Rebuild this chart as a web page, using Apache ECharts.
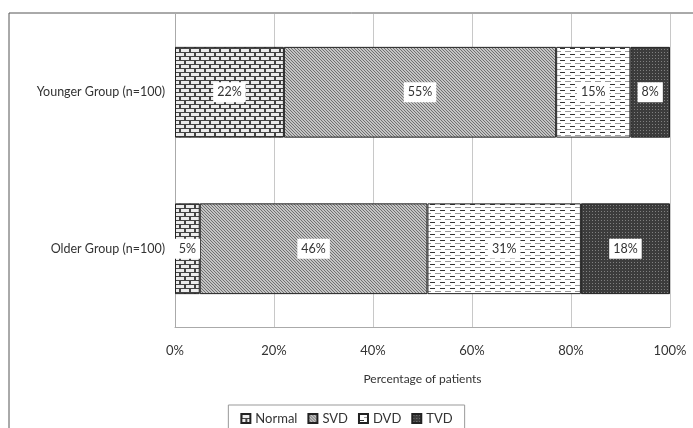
<!DOCTYPE html>
<html><head><meta charset="utf-8">
<script src="https://cdn.jsdelivr.net/npm/echarts@6/dist/echarts.min.js"></script>
<style>html,body{margin:0;padding:0;background:#fff}#c{width:693px;height:428px}</style>
</head><body><div id="c"></div>
<script>
const categories = ['Younger Group (n=100)', 'Older Group (n=100)'];
const seriesNames = ['Normal', 'SVD', 'DVD', 'TVD'];
const normalVals = [22, 5];
const svdVals = [55, 46];
const dvdVals = [15, 31];
const tvdVals = [8, 18];
const xTicks = [0, 20, 40, 60, 80, 100];

function pat(w, h, draw) {
  const c = document.createElement('canvas'); c.width = w; c.height = h;
  const g = c.getContext('2d'); draw(g); return { image: c, repeat: 'repeat' };
}
const patterns = [
  pat(10, 8, g => { g.fillStyle = '#444'; g.fillRect(0,0,10,8); g.fillStyle = '#ececec';
    g.fillRect(1,1,8,3); g.fillRect(-4,5,8,3); g.fillRect(6,5,8,3); }),
  pat(3, 3, g => { g.fillStyle = '#c4c4c4'; g.fillRect(0,0,3,3); g.fillStyle = '#707070';
    for (let i = 0; i < 3; i++) { g.fillRect(i, i, 1, 1); } }),
  pat(10, 6, g => { g.fillStyle = '#ffffff'; g.fillRect(0,0,10,6); g.fillStyle = '#333';
    g.fillRect(0,0,5,1); g.fillStyle = '#9a9a9a'; g.fillRect(5,3,5,1); g.fillRect(0,3,1,1); }),
  pat(3, 3, g => { g.fillStyle = '#3c3c3c'; g.fillRect(0,0,3,3); g.fillStyle = '#808080';
    g.fillRect(1,1,1,1); })
];
const valueSets = [normalVals, svdVals, dvdVals, tvdVals];

const chart = echarts.init(document.getElementById('c'));
chart.setOption({
  animation: false,
  textStyle: { fontFamily: 'Lato' },
  graphic: [{ type: 'rect', shape: { x: 9, y: 13, width: 700, height: 430 },
    style: { fill: 'none', stroke: '#555', lineWidth: 1 }, silent: true, z: -1 }],
  grid: { left: 175, right: 23, top: 14, bottom: 101 },
  legend: {
    bottom: -6, left: 'center', icon: 'rect', itemWidth: 9, itemHeight: 9, itemGap: 10,
    borderColor: '#999', borderWidth: 1, padding: [7, 12, 9, 12],
    textStyle: { fontSize: 13, color: '#333', fontFamily: 'Lato' },
    data: seriesNames
  },
  xAxis: {
    type: 'value', min: 0, max: 100, interval: 20,
    name: 'Percentage of patients', nameLocation: 'middle', nameGap: 46,
    nameTextStyle: { fontSize: 12, color: '#333', fontFamily: 'Lato' },
    axisLabel: { formatter: v => xTicks.includes(v) ? v + '%' : '', fontSize: 13, color: '#333', margin: 17 },
    axisLine: { show: true, lineStyle: { color: '#aaa' } },
    axisTick: { show: false },
    splitLine: { lineStyle: { color: '#c8c8c8' } }
  },
  yAxis: {
    type: 'category', data: categories, inverse: true,
    axisLabel: { fontSize: 12.5, color: '#333', margin: 10 },
    axisLine: { lineStyle: { color: '#aaa' } }, axisTick: { show: false }
  },
  series: seriesNames.map((n, i) => ({
    name: n, type: 'bar', stack: 'all', barWidth: '58%',
    data: valueSets[i],
    itemStyle: { color: patterns[i], borderColor: '#222', borderWidth: 1 },
    label: { show: true, formatter: '{c}%', color: '#333', fontSize: 12.5,
      backgroundColor: '#fff', padding: [4, 4, 3, 4], fontFamily: 'Lato' }
  }))
});
</script></body></html>
